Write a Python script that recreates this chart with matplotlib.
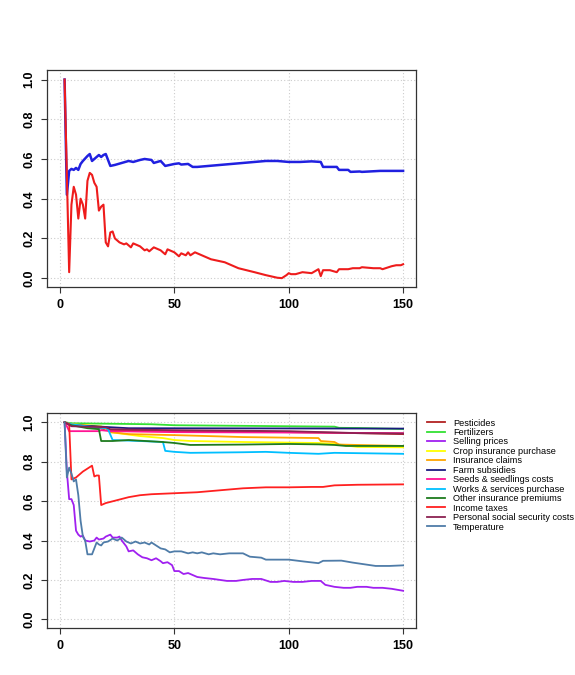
import matplotlib

matplotlib.use("Agg")
import matplotlib.pyplot as plt

plt.rcParams["font.family"] = ["Liberation Sans", "DejaVu Sans"]

# ---- top panel: two running series ----
top_red_x = [2, 4, 5, 6, 7, 8, 9, 10, 11, 12, 13, 14, 15, 16, 17, 18, 19, 20, 21, 22, 23, 24,
             26, 28, 29, 31, 32, 35, 37, 38, 39, 41, 44, 46, 47, 50, 52, 53, 55, 56, 57, 59,
             61, 66, 72, 78, 85, 90, 95, 97, 99, 100, 101, 103, 106, 110, 113, 114, 115,
             118, 121, 122, 126, 128, 131, 132, 137, 140, 141, 145, 147, 149, 150]
top_red_y = [1.0, 0.03, 0.37, 0.46, 0.42, 0.30, 0.40, 0.37, 0.30, 0.49, 0.53, 0.52, 0.48, 0.46,
             0.34, 0.36, 0.37, 0.18, 0.16, 0.23, 0.235, 0.20, 0.18, 0.17, 0.175, 0.155, 0.175,
             0.16, 0.14, 0.145, 0.135, 0.155, 0.14, 0.12, 0.145, 0.13, 0.11, 0.125, 0.115, 0.13,
             0.115, 0.13, 0.12, 0.095, 0.08, 0.05, 0.03, 0.015, 0.002, 0.0, 0.015, 0.025, 0.02,
             0.02, 0.03, 0.025, 0.045, 0.01, 0.04, 0.04, 0.03, 0.045, 0.045, 0.05, 0.05, 0.055,
             0.05, 0.05, 0.045, 0.06, 0.065, 0.065, 0.07]

top_blue_x = [2, 3, 4, 5, 6, 7, 8, 9, 10, 12, 13, 14, 16, 17, 18, 19, 20, 22, 24, 27, 30, 32,
              35, 37, 40, 41, 44, 46, 50, 52, 53, 56, 58, 60, 70, 80, 90, 95, 100, 105, 110,
              114, 115, 121, 122, 126, 127, 131, 132, 140, 150]
top_blue_y = [1.0, 0.42, 0.54, 0.55, 0.545, 0.555, 0.545, 0.575, 0.59, 0.615, 0.625, 0.59,
              0.61, 0.62, 0.61, 0.62, 0.625, 0.565, 0.57, 0.58, 0.59, 0.585, 0.595, 0.6, 0.595,
              0.58, 0.59, 0.565, 0.575, 0.578, 0.572, 0.575, 0.56, 0.56, 0.57, 0.58, 0.59, 0.59,
              0.585, 0.585, 0.588, 0.585, 0.56, 0.56, 0.545, 0.545, 0.535, 0.537, 0.535, 0.54,
              0.54]

# ---- bottom panel: one series per variable ----
labels = ["Pesticides", "Fertilizers", "Selling prices", "Crop insurance purchase",
          "Insurance claims", "Farm subsidies", "Seeds & seedlings costs",
          "Works & services purchase", "Other insurance premiums", "Income taxes",
          "Personal social security costs", "Temperature"]
colors = ["#B22222", "#33E033", "#A020F0", "#FFFF00", "#FFA500", "#1A1A80",
          "#FF1493", "#00BFFF", "#1E7B1E", "#FF2020", "#8B2252", "#4F7CA8"]

pest_x = [2, 5, 15, 22, 50, 100, 130, 150]
pest_y = [1.0, 0.985, 0.975, 0.96, 0.955, 0.95, 0.945, 0.94]

fert_x = [2, 5, 20, 40, 50, 100, 120, 122, 131, 150]
fert_y = [1.0, 0.995, 0.993, 0.99, 0.985, 0.98, 0.978, 0.972, 0.971, 0.966]

sell_x = [2, 3, 4, 5, 6, 7, 8, 9, 10, 11, 13, 15, 16, 17, 19, 20, 21, 22, 23, 25, 26, 27, 29,
          30, 32, 34, 36, 38, 40, 42, 44, 45, 47, 49, 50, 52, 54, 56, 58, 60, 63, 67, 70, 73,
          77, 80, 84, 88, 92, 95, 98, 102, 106, 110, 114, 116, 120, 124, 127, 130, 134, 137,
          141, 145, 150]
sell_y = [1.0, 0.75, 0.61, 0.61, 0.58, 0.45, 0.43, 0.42, 0.425, 0.40, 0.395, 0.40, 0.415,
          0.405, 0.41, 0.42, 0.425, 0.43, 0.415, 0.415, 0.42, 0.40, 0.37, 0.345, 0.35, 0.33,
          0.315, 0.31, 0.30, 0.31, 0.295, 0.285, 0.29, 0.275, 0.245, 0.245, 0.23, 0.235,
          0.225, 0.215, 0.21, 0.205, 0.20, 0.195, 0.195, 0.20, 0.205, 0.205, 0.19, 0.19,
          0.195, 0.19, 0.19, 0.195, 0.195, 0.175, 0.165, 0.16, 0.16, 0.165, 0.165, 0.16,
          0.16, 0.155, 0.145]

crop_x = [2, 5, 18, 22, 35, 45, 50, 57, 80, 100, 113, 120, 130, 150]
crop_y = [1.0, 0.99, 0.98, 0.95, 0.93, 0.92, 0.91, 0.905, 0.90, 0.897, 0.895, 0.89, 0.875, 0.873]

claim_x = [2, 5, 15, 20, 22, 30, 50, 80, 113, 114, 120, 122, 150]
claim_y = [1.0, 0.99, 0.98, 0.97, 0.95, 0.94, 0.935, 0.925, 0.92, 0.905, 0.90, 0.887, 0.88]

subs_x = [2, 5, 15, 22, 30, 150]
subs_y = [1.0, 0.985, 0.98, 0.975, 0.97, 0.968]

seed_x = [2, 3, 4, 17, 18, 22, 50, 100, 150]
seed_y = [1.0, 0.98, 0.955, 0.955, 0.96, 0.955, 0.95, 0.948, 0.945]

works_x = [2, 5, 15, 20, 21, 23, 35, 45, 46, 50, 57, 80, 90, 100, 113, 120, 150]
works_y = [1.0, 0.99, 0.975, 0.97, 0.965, 0.91, 0.905, 0.90, 0.855, 0.85, 0.845, 0.848,
           0.85, 0.845, 0.84, 0.845, 0.84]

other_x = [2, 5, 12, 17, 18, 23, 30, 45, 50, 57, 80, 100, 113, 120, 125, 150]
other_y = [1.0, 0.985, 0.97, 0.965, 0.905, 0.905, 0.91, 0.90, 0.895, 0.885, 0.887, 0.89,
           0.888, 0.885, 0.88, 0.88]

tax_x = [2, 4, 5, 7, 10, 14, 15, 16, 17, 18, 20, 25, 30, 35, 40, 50, 60, 70, 80, 90, 100,
         110, 115, 120, 130, 150]
tax_y = [1.0, 0.99, 0.71, 0.72, 0.75, 0.78, 0.725, 0.73, 0.73, 0.58, 0.59, 0.605, 0.62, 0.63,
         0.635, 0.64, 0.645, 0.655, 0.665, 0.67, 0.67, 0.672, 0.672, 0.68, 0.683, 0.685]

pers_x = [2, 5, 20, 22, 50, 100, 115, 130, 150]
pers_y = [1.0, 0.98, 0.975, 0.965, 0.96, 0.955, 0.95, 0.945, 0.943]

temp_x = [2, 3, 4, 5, 6, 7, 8, 9, 10, 11, 12, 14, 15, 16, 17, 18, 19, 21, 23, 25, 27, 29, 31,
          33, 35, 37, 39, 40, 42, 44, 46, 48, 50, 53, 56, 58, 60, 62, 65, 67, 70, 74, 80, 83,
          88, 90, 100, 107, 113, 115, 123, 128, 138, 144, 150]
temp_y = [1.0, 0.72, 0.77, 0.74, 0.70, 0.71, 0.63, 0.50, 0.42, 0.40, 0.33, 0.33, 0.36, 0.39,
          0.38, 0.375, 0.39, 0.395, 0.41, 0.40, 0.415, 0.395, 0.385, 0.395, 0.385, 0.39, 0.38,
          0.39, 0.375, 0.36, 0.355, 0.34, 0.345, 0.345, 0.335, 0.34, 0.335, 0.34, 0.33, 0.335,
          0.33, 0.335, 0.335, 0.318, 0.313, 0.303, 0.303, 0.293, 0.285, 0.297, 0.298, 0.288,
          0.271, 0.271, 0.274]

series_x = [pest_x, fert_x, sell_x, crop_x, claim_x, subs_x, seed_x, works_x, other_x,
            tax_x, pers_x, temp_x]
series_y = [pest_y, fert_y, sell_y, crop_y, claim_y, subs_y, seed_y, works_y, other_y,
            tax_y, pers_y, temp_y]

x_ticks = [0, 50, 100, 150]
y_ticks = [0.0, 0.2, 0.4, 0.6, 0.8, 1.0]


def style_axes(ax):
    ax.set_xlim(-5.7, 155.7)
    ax.set_ylim(-0.044, 1.047)
    ax.set_xticks(x_ticks)
    ax.set_yticks(y_ticks)
    ax.set_xticklabels([str(t) for t in x_ticks], fontsize=9, fontweight="bold")
    ax.set_yticklabels([f"{t:.1f}" for t in y_ticks], fontsize=9, fontweight="bold",
                       rotation=90, va="center")
    ax.tick_params(length=4.5, width=0.8, pad=4, color="#333333")
    ax.grid(True, linestyle=(0, (1, 2)), color="#CCCCCC", linewidth=0.8)
    ax.set_axisbelow(True)
    for sp in ax.spines.values():
        sp.set_color("#333333")
        sp.set_linewidth(0.9)


fig = plt.figure(figsize=(5.75, 6.75), dpi=100)

ax1 = fig.add_axes([0.0817, 0.575, 0.642, 0.321])
ax1.plot(top_blue_x, top_blue_y, color="#2020E0", linewidth=1.8)
ax1.plot(top_red_x, top_red_y, color="#EE1C1C", linewidth=1.5)
style_axes(ax1)

ax2 = fig.add_axes([0.0817, 0.0696, 0.642, 0.3185])
for xs, ys, c, lab in zip(series_x, series_y, colors, labels):
    ax2.plot(xs, ys, color=c, linewidth=1.3, label=lab)
style_axes(ax2)

fig.legend(loc="upper left", bbox_to_anchor=(0.742, 0.380), frameon=False, fontsize=6.6,
           handlelength=2.0, handletextpad=0.85, labelspacing=0.05, borderpad=0.0,
           borderaxespad=0.0)

fig.savefig("out.png", dpi=100)
